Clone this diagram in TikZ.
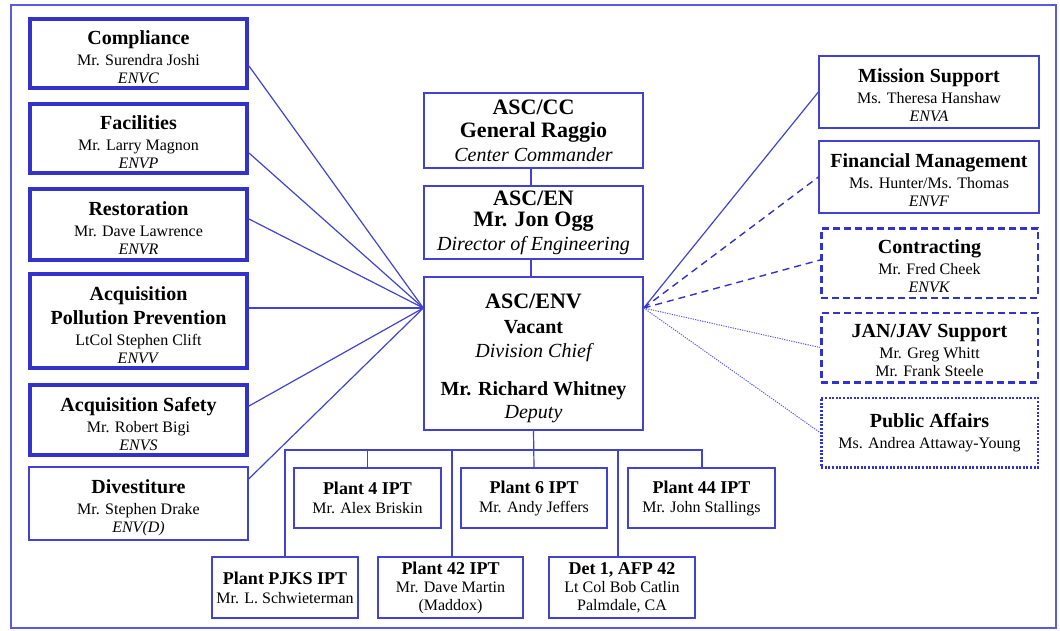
\documentclass[tikz,border=0pt]{standalone}
\usepackage{fontspec}
\setmainfont{Liberation Serif}
\definecolor{bl}{RGB}{51,51,204}
\definecolor{bll}{RGB}{66,66,208}
\definecolor{bld}{RGB}{90,90,225}
\newcommand\hdA{\fontsize{20}{21}\selectfont\bfseries}
\newcommand\hdB{\fontsize{22}{24}\selectfont\bfseries}
\newcommand\hdP{\fontsize{18}{19}\selectfont\bfseries}
\newcommand\txB{\fontsize{20}{24}\selectfont}
\newcommand\tpA{\rule{0pt}{22pt}}
\newcommand\tpB{\rule{0pt}{20pt}}
\tikzset{
  base/.style={align=center, inner sep=0pt, font=\fontsize{16}{18}\selectfont},
  cbase/.style={align=center, inner sep=0pt, font=\fontsize{20}{24}\selectfont},
  thickbox/.style={base, draw=bl, line width=4pt, minimum width=217pt},
  thinbox/.style={base, draw=bll, line width=1.3pt},
  cbox/.style={cbase, draw=bll, line width=1.3pt, minimum width=219pt},
  dashbox/.style={base, draw=bl, line width=2.5pt, dash pattern=on 7pt off 4pt, minimum width=216.5pt, minimum height=69.5pt},
  dotbox/.style={base, draw=bl, line width=2.5pt, dash pattern=on 2pt off 1.6pt, minimum width=216.5pt, minimum height=69.5pt},
  conn/.style={draw=bll, line width=1.2pt},
  dconn/.style={draw=bl, line width=1.4pt, dash pattern=on 7pt off 5pt},
  fconn/.style={draw=bld, line width=1pt, dash pattern=on 1.2pt off 1.2pt},
  frame/.style={draw=bld, line width=1.3pt}
}
\begin{document}
\begin{tikzpicture}[x=1pt,y=-1pt]
\useasboundingbox (0,0) rectangle (1060,630);
\draw[frame] (11,5) rectangle (1056,628);

% left column
\node[thickbox, minimum height=69pt] (comp) at (138.5,53.5) {{\tpA\hdA Compliance}\\[3pt]Mr. Surendra Joshi\\\textit{ENVC}};
\node[thickbox, minimum height=69pt] (fac) at (138.5,138.5) {{\tpA\hdA Facilities}\\[3pt]Mr. Larry Magnon\\\textit{ENVP}};
\node[thickbox, minimum height=71pt] (rest) at (138.5,224.5) {{\tpA\hdA Restoration}\\[3pt]Mr. Dave Lawrence\\\textit{ENVR}};
\node[thickbox, minimum height=94pt] (app) at (138.5,321) {{\tpA\hdA Acquisition}\\[5pt]{\hdA Pollution Prevention}\\[3pt]LtCol Stephen Clift\\\textit{ENVV}};
\node[thickbox, minimum height=70pt] (safe) at (138.5,420) {{\tpA\hdA Acquisition Safety}\\[3pt]Mr. Robert Bigi\\\textit{ENVS}};
\node[thinbox, minimum width=219pt, minimum height=73pt] (dive) at (138.5,503.5) {{\tpA\hdA Divestiture}\\[3pt]Mr. Stephen Drake\\\textit{ENV(D)}};

% centre column
\node[cbox, minimum height=75pt] (cc) at (533.5,130.5) {{\hdB ASC/CC}\\[-1pt]{\hdB General Raggio}\\{\itshape Center Commander}};
\node[cbox, minimum height=73pt] (en) at (533.5,222.5) {{\hdB ASC/EN}\\[-3pt]{\hdB Mr. Jon Ogg}\\{\itshape Director of Engineering}};
\node[cbox, minimum height=153pt] (env) at (533.5,353.5) {{\rule{0pt}{23.4pt}\hdB ASC/ENV}\\[1pt]{\bfseries Vacant}\\{\itshape Division Chief}\\[14pt]{\bfseries Mr. Richard Whitney}\\[-1pt]{\itshape Deputy}};

% right column
\node[thinbox, minimum width=220pt, minimum height=72pt] (ms) at (929,92) {{\tpB\hdA Mission Support}\\[3pt]Ms. Theresa Hanshaw\\\textit{ENVA}};
\node[thinbox, minimum width=220pt, minimum height=72pt] (fm) at (929,177) {{\tpB\hdA Financial Management}\\[3pt]Ms. Hunter/Ms. Thomas\\\textit{ENVF}};
\node[dashbox] (con) at (929.5,263) {{\tpB\hdA Contracting}\\[3pt]Mr. Fred Cheek\\\textit{ENVK}};
\node[dashbox] (jan) at (929.5,347.5) {{\tpB\hdA JAN/JAV Support}\\[3pt]Mr. Greg Whitt\\Mr. Frank Steele};
\node[dotbox] (pa) at (929.5,432.5) {{\hdA Public Affairs}\\[3pt]Ms. Andrea Attaway-Young};

% plants
\node[thinbox, minimum width=147pt, minimum height=60pt] (p4) at (367.5,498) {{\hdP Plant 4 IPT}\\[1pt]Mr. Alex Briskin};
\node[thinbox, minimum width=146pt, minimum height=60pt] (p6) at (534,498) {{\hdP Plant 6 IPT}\\[1pt]Mr. Andy Jeffers};
\node[thinbox, minimum width=147pt, minimum height=60pt] (p44) at (701.5,498) {{\hdP Plant 44 IPT}\\[1pt]Mr. John Stallings};
\node[thinbox, minimum width=146pt, minimum height=61pt] (pjks) at (285,587.5) {{\hdP Plant PJKS IPT}\\[1pt]Mr. L. Schwieterman};
\node[thinbox, minimum width=145pt, minimum height=61pt] (p42) at (450.5,587.5) {{\hdP Plant 42 IPT}\\Mr. Dave Martin\\(Maddox)};
\node[thinbox, minimum width=146pt, minimum height=61pt] (det) at (622,587.5) {{\hdP Det 1, AFP 42}\\Lt Col Bob Catlin\\Palmdale, CA};

% vertical chain
\draw[conn] ([xshift=-2.5pt]cc.south) -- ([xshift=-2.5pt]en.north);
\draw[conn] ([xshift=-2.5pt]en.south) -- ([xshift=-2.5pt]env.north);
\coordinate (bus) at (env.south |- 0,450);
\draw[conn] (env.south) -- (p6.north);
\draw[conn] (pjks.north) |- (bus) -| ([xshift=0.5pt]p44.north);
\draw[conn] (p4.north) -- (p4.north |- bus);
\draw[conn] ([xshift=1.5pt]p42.north) -- ([xshift=1.5pt]p42.north |- bus);
\draw[conn] ([xshift=-4pt]det.north) -- ([xshift=-4pt]det.north |- bus);

% left connectors
\coordinate (envL) at ([yshift=45.5pt]env.west);
\coordinate (envR) at ([yshift=45.5pt]env.east);
\draw[conn] ([yshift=-12.5pt]comp.east) -- (envL);
\draw[conn] ([yshift=-14.5pt]fac.east) -- (envL);
\draw[conn] ([yshift=5.5pt]rest.east) -- (envL);
\draw[conn] ([yshift=13pt]app.east) -- (envL);
\draw[conn] ([yshift=14pt]safe.east) -- (envL);
\draw[conn] ([yshift=24.5pt]dive.east) -- (envL);

% right connectors
\draw[conn] (envR) -- (ms.west);
\draw[dconn] (envR) -- (fm.west);
\draw[dconn] (envR) -- ([yshift=3pt]con.west);
\draw[fconn] (envR) -- (jan.west);
\draw[fconn] (envR) -- (pa.west);
\end{tikzpicture}
\end{document}
